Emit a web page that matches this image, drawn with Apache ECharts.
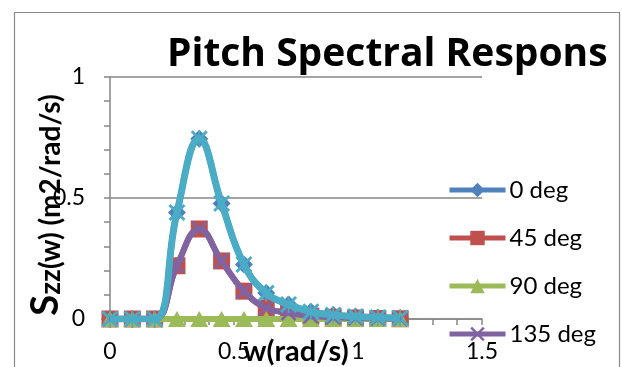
<!DOCTYPE html>
<html>
<head>
<meta charset="utf-8">
<script src="https://cdn.jsdelivr.net/npm/echarts@6/dist/echarts.min.js"></script>
<style>
html,body{margin:0;padding:0;background:#fff;}
#chart{width:622px;height:367px;}
</style>
</head>
<body>
<div id="chart"></div>
<script>
// ---- data ----
var omega = [0, 0.09, 0.18, 0.27, 0.36, 0.45, 0.54, 0.63, 0.72, 0.81, 0.90, 0.99, 1.08, 1.17];
var deg0   = [0, 0, 0, 0.44, 0.745, 0.477, 0.225, 0.107, 0.060, 0.030, 0.017, 0.010, 0.006, 0.004];
var deg45  = [0, 0, 0, 0.22, 0.372, 0.240, 0.115, 0.046, 0.025, 0.012, 0.007, 0.004, 0.002, 0.001];
var deg90  = [0, 0, 0, 0, 0, 0, 0, 0, 0, 0, 0, 0, 0, 0];
var deg135 = [0, 0, 0, 0.22, 0.372, 0.240, 0.115, 0.046, 0.025, 0.012, 0.007, 0.004, 0.002, 0.001];
var deg180 = [0, 0, 0, 0.44, 0.745, 0.477, 0.225, 0.107, 0.060, 0.030, 0.017, 0.010, 0.006, 0.004];
var seriesNames = ['0 deg', '45 deg', '90 deg', '135 deg', '180 deg'];
var legendNames = ['0 deg', '45 deg', '90 deg', '135 deg'];
var xTicks = [0, 0.5, 1, 1.5];
var yTicks = [0, 0.5, 1];
var titleText = 'Pitch Spectral Respons';
var xTitle = 'w(rad/s)';
var yTitleS = 'S';
var yTitleRest = 'zz(w) (m2/rad/s)';

function pairs(xs, ys) { return xs.map(function (x, i) { return [x, ys[i]]; }); }

var FONT = 'Lato, Carlito, "Liberation Sans", sans-serif';
var TFONT = '"Open Sans", "Noto Sans", sans-serif';
var colors = ['#4F81BD', '#C0504D', '#9BBB59', '#8064A2', '#4BACC6'];
var xSym = 'path://M0,1.2 L1.2,0 L5,3.8 L8.8,0 L10,1.2 L6.2,5 L10,8.8 L8.8,10 L5,6.2 L1.2,10 L0,8.8 L3.8,5 Z';
var starSym = 'path://M0,1.2 L1.2,0 L5,3.8 L8.8,0 L10,1.2 L6.2,5 L10,8.8 L8.8,10 L5,6.2 L1.2,10 L0,8.8 L3.8,5 Z M4.5,0 L4.5,10 L5.5,10 L5.5,0 Z';
var symbols = ['diamond', 'rect', 'triangle', xSym, starSym];
var symSizes = [[18, 18], 17, [18, 16], 16, 17];
var lineWidths = [6, 6, 6, 6, 7];
var datasets = [deg0, deg45, deg90, deg135, deg180];

var chart = echarts.init(document.getElementById('chart'), null, {renderer: 'canvas'});
var option = {
  animation: false,
  backgroundColor: '#ffffff',
  color: colors,
  grid: {left: 110, right: 140, top: 77, bottom: 48, containLabel: false},
  xAxis: {
    type: 'value', min: 0, max: 1.5, interval: 0.5,
    axisLine: {show: true, lineStyle: {color: '#868686', width: 1.5}},
    axisTick: {show: true, length: 6, lineStyle: {color: '#868686', width: 1.5}},
    minorTick: {show: true, splitNumber: 5, length: 6, lineStyle: {color: '#868686', width: 1.5}},
    splitLine: {show: false},
    axisLabel: {
      fontFamily: FONT, fontSize: 23, color: '#000', margin: 21,
      formatter: function (v) { return xTicks.indexOf(v) >= 0 ? String(v) : ''; }
    }
  },
  yAxis: {
    type: 'value', min: 0, max: 1, interval: 0.5,
    axisLine: {show: true, lineStyle: {color: '#868686', width: 1.5}},
    axisTick: {show: true, length: 6, lineStyle: {color: '#868686', width: 1.5}},
    minorTick: {show: true, splitNumber: 5, length: 6, lineStyle: {color: '#868686', width: 1.5}},
    splitLine: {show: true, lineStyle: {color: '#868686', width: 1.5}},
    axisLabel: {
      fontFamily: FONT, fontSize: 23, color: '#000', margin: 25,
      formatter: function (v) { return yTicks.indexOf(v) >= 0 ? String(v) : ''; }
    }
  },
  legend: {
    data: legendNames,
    orient: 'vertical',
    left: 447, top: 178,
    itemWidth: 56, itemHeight: 18, itemGap: 24,
    lineStyle: {width: 5},
    textStyle: {fontFamily: FONT, fontSize: 24, color: '#000', lineHeight: 23, padding: [0, 0, 0, -1]},
    padding: 0
  },
  series: datasets.map(function (d, i) {
    return {
      name: seriesNames[i],
      type: 'line',
      smooth: 0.45,
      data: pairs(omega, d),
      symbol: symbols[i],
      symbolSize: symSizes[i],
      showSymbol: true,
      lineStyle: {width: lineWidths[i], color: colors[i]},
      itemStyle: {color: colors[i]},
      z: 2 + i
    };
  }),
  graphic: [
    {type: 'rect', shape: {x: 14.5, y: 12.5, width: 605, height: 400}, style: {fill: 'none', stroke: '#898989', lineWidth: 1.2}, z: 1, silent: true},
    {type: 'text', x: 167, y: 55, style: {text: titleText, font: 'bold 39px ' + TFONT, fill: '#000', align: 'left', verticalAlign: 'middle'}, z: 10},
    {type: 'text', x: 296, y: 352, style: {text: xTitle, font: 'bold 29px ' + FONT, fill: '#000', align: 'center', verticalAlign: 'middle'}, z: 10},
    {type: 'text', x: 47, y: 205, rotation: Math.PI / 2,
      style: {
        text: '{s|' + yTitleS + '}{r|' + yTitleRest + '}',
        align: 'center', verticalAlign: 'middle', fill: '#000',
        rich: {
          s: {fontFamily: FONT, fontWeight: 'bold', fontSize: 38, lineHeight: 36, verticalAlign: 'bottom'},
          r: {fontFamily: FONT, fontWeight: 'bold', fontSize: 28, lineHeight: 36, verticalAlign: 'bottom'}
        }
      }, z: 10}
  ]
};
chart.setOption(option);
</script>
</body>
</html>
